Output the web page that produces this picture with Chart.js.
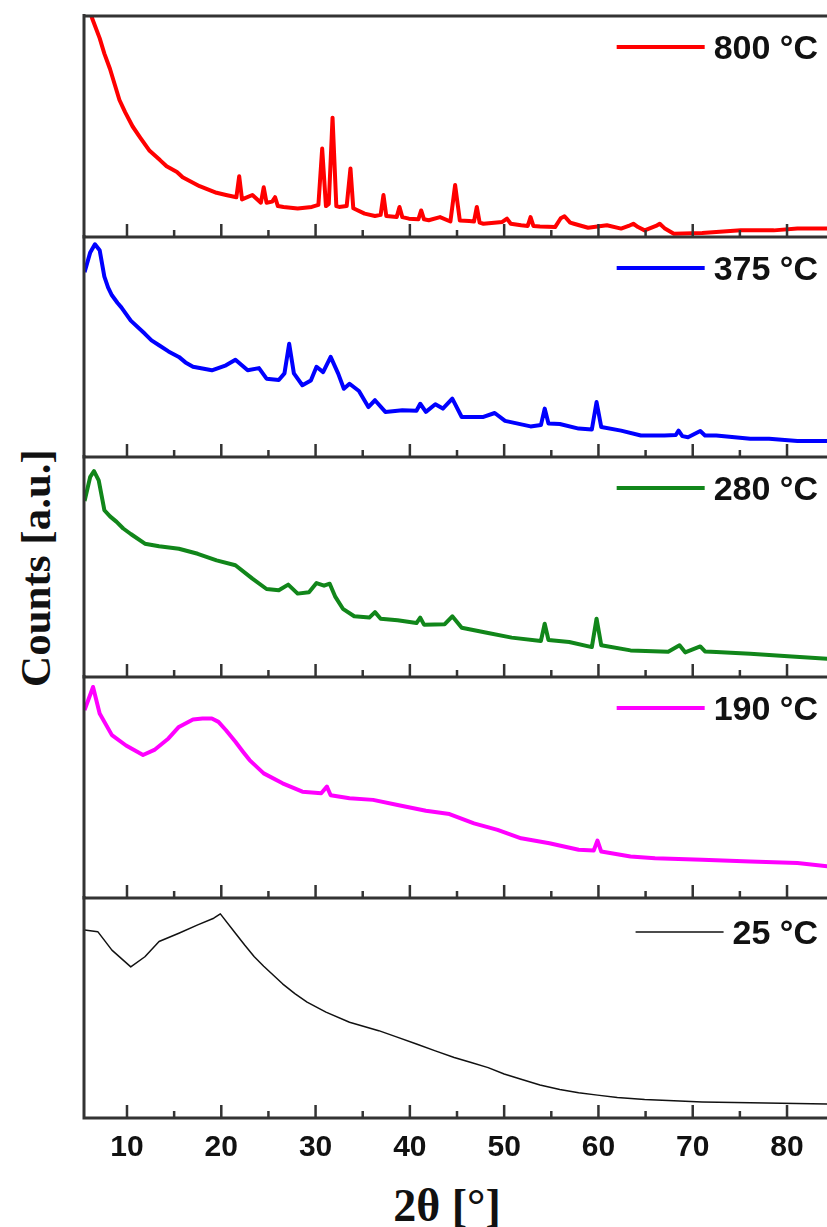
<!DOCTYPE html>
<html>
<head>
<meta charset="utf-8">
<script src="https://cdn.jsdelivr.net/npm/chart.js@4.4.0/dist/chart.umd.min.js"></script>
<style>
body { margin: 0; background: #fff; }
#wrap { position: relative; width: 827px; height: 1227px; overflow: hidden; background: #fff; }
#wrap canvas { position: absolute; left: 0; }
.ytitle { position: absolute; left: 35px; top: 568px; transform: translate(-50%, -50%) rotate(-90deg);
  font: bold 43px "Liberation Serif", "Times New Roman", serif; white-space: nowrap; color: #111; }
.xtitle { position: absolute; left: 447px; top: 1205px; transform: translate(-50%, -50%);
  font: bold 46px "Liberation Serif", "Times New Roman", serif; white-space: nowrap; color: #111; }
</style>
</head>
<body>
<div id="wrap">
  <div class="ytitle">Counts [a.u.]</div>
  <div class="xtitle">2θ [°]</div>
</div>
<script>
// x axis
var xMin = 5.44, xMax = 84.24;
var majorTicks = [10, 20, 30, 40, 50, 60, 70, 80];
var minorTicks = [15, 25, 35, 45, 55, 65, 75];

// 800 C
var tt800 = [5.5, 6.3, 7.1, 7.6, 8.2, 8.7, 9.2, 9.8, 10.6, 11.4, 12.4, 13.5, 14.2, 15.3, 15.9, 17.7, 19.5, 20.5, 21.6, 21.9, 22.2, 23.3, 24.2, 24.5, 24.8, 25.4, 25.7, 26.0, 26.6, 28.1, 29.6, 30.3, 30.7, 31.1, 31.4, 31.8, 32.2, 32.5, 33.3, 33.7, 34.0, 35.2, 36.3, 36.9, 37.2, 37.5, 38.6, 38.9, 39.2, 39.9, 40.9, 41.2, 41.5, 42.0, 43.2, 44.3, 44.8, 45.3, 46.3, 46.8, 47.1, 47.4, 47.8, 49.8, 50.3, 50.7, 51.8, 52.5, 52.8, 53.1, 53.8, 55.4, 56.0, 56.4, 57.0, 57.4, 58.9, 60.9, 62.4, 63.2, 63.7, 64.2, 64.9, 66.1, 66.5, 67.0, 68.0, 71.0, 75.1, 78.6, 81.1, 84.3];
var c800 = [112, 99, 90, 83, 76, 69, 62, 56.5, 50, 45, 39, 34.8, 32, 29.4, 27, 23, 20, 19, 18, 27.5, 17, 19, 15.5, 22.5, 15.5, 16, 18, 14, 13.6, 12.9, 13.6, 14.5, 40, 14, 15, 54, 14, 13.6, 14, 31, 13, 10.6, 9.5, 10, 19, 9.5, 9, 13.6, 9, 8.3, 8, 12, 8, 7.6, 9, 7, 23.5, 7.5, 7.2, 7, 13.6, 6.5, 6, 6.8, 8.3, 6, 5.3, 5, 9, 5, 4.8, 4.5, 8.5, 9.4, 6.5, 6, 4.2, 5.3, 3.8, 5, 6, 4.5, 3, 5, 6, 4, 1.5, 1.8, 3, 3, 3.8, 3.8];

// 375 C
var tt375 = [5.5, 6.1, 6.6, 7.1, 7.6, 8.0, 8.4, 9.0, 9.4, 10.4, 11.9, 12.6, 13.4, 14.4, 15.5, 16.2, 17.0, 19.0, 20.5, 21.5, 22.8, 24.0, 24.8, 26.1, 26.7, 27.2, 27.7, 28.6, 29.5, 30.1, 30.8, 31.6, 32.4, 33.0, 33.6, 34.6, 35.6, 36.3, 37.4, 39.2, 40.7, 41.1, 41.7, 42.7, 43.5, 44.5, 45.5, 47.8, 49.0, 50.1, 52.8, 53.9, 54.3, 54.7, 55.9, 57.9, 59.3, 59.8, 60.3, 62.4, 64.5, 67.0, 68.2, 68.5, 68.9, 69.5, 70.8, 71.3, 72.5, 76.1, 78.1, 81.1, 84.3];
var c375 = [84, 93, 96.7, 94, 82, 77, 73.5, 70, 68, 62, 56, 53, 50.8, 48, 45.5, 43, 41, 39.4, 41.7, 44.2, 39.4, 40.4, 35.6, 35, 38, 51.5, 38, 32.6, 34.8, 41, 38.6, 45.5, 37.9, 31, 33.3, 30, 22.7, 25.8, 20.5, 21.2, 21, 24.2, 20.5, 24, 22, 26.5, 18.2, 18.2, 20, 16.4, 13.9, 14.5, 22, 15.2, 15, 12.9, 12.5, 25, 13.6, 12, 9.8, 9.8, 10, 12, 9.5, 9, 11.8, 9.8, 9.8, 8.3, 8.3, 7.3, 7.3];

// 280 C
var tt280 = [5.5, 6.1, 6.5, 7.0, 7.6, 8.2, 8.9, 9.6, 10.4, 11.9, 13.4, 15.5, 17.5, 19.5, 21.5, 23.3, 24.8, 26.1, 27.1, 28.1, 29.3, 30.1, 30.9, 31.5, 32.1, 32.9, 34.1, 35.7, 36.3, 36.9, 38.7, 40.7, 41.1, 41.5, 43.7, 44.5, 45.5, 48.3, 50.8, 53.9, 54.3, 54.7, 56.9, 59.3, 59.8, 60.3, 63.4, 67.4, 68.6, 69.2, 70.8, 71.3, 72.5, 76.1, 80.1, 84.3];
var c280 = [80, 91, 93.6, 89.4, 75.8, 73, 70.5, 67.5, 65, 60.6, 59.4, 58.3, 56, 53, 50.8, 44.7, 40, 39.4, 42, 37.9, 38.5, 42.7, 41.5, 42.4, 36.4, 31, 27.6, 27, 29.5, 26.5, 25.8, 24.5, 27, 23.8, 24, 27.6, 22.4, 20, 17.9, 16.4, 24.2, 16.8, 15.9, 13.6, 26.5, 14.4, 12.1, 11.5, 14.4, 11.2, 13.9, 11.6, 11.4, 10.6, 9.4, 8.3];

// 190 C
var tt190 = [5.5, 6.4, 7.1, 8.4, 9.9, 11.7, 12.9, 14.4, 15.5, 16.2, 17.0, 18.0, 19.0, 19.7, 20.5, 21.5, 22.3, 23.0, 24.5, 26.5, 28.6, 30.6, 31.2, 31.6, 33.6, 36.1, 38.7, 41.7, 44.2, 46.8, 49.3, 51.8, 54.8, 57.9, 59.5, 59.9, 60.3, 63.4, 66.0, 71.0, 76.1, 81.1, 84.3];
var c190 = [85, 95.5, 83.5, 73.7, 69, 64.7, 67, 72.2, 77.4, 79, 80.8, 81.2, 81.2, 79.7, 75.9, 70.7, 66.2, 62.4, 56.4, 51.9, 48.1, 47.4, 50.4, 46.5, 45.1, 44.4, 42.1, 39.5, 38, 33.8, 30.8, 27, 24.8, 21.8, 21.5, 26, 21, 18.8, 18, 17.3, 16.5, 15.8, 14.3];

// 25 C
var tt25 = [5.5, 6.9, 8.4, 10.4, 11.9, 13.4, 15.5, 17.5, 19.2, 19.9, 21.5, 22.5, 23.5, 24.5, 26.5, 27.8, 29.1, 31.1, 33.6, 36.7, 38.5, 40.7, 42.7, 44.7, 46.5, 48.3, 50.0, 51.8, 53.8, 55.9, 57.9, 59.9, 62.0, 64.9, 68.0, 71.0, 76.1, 84.3];
var c25 = [85.5, 84.7, 76.3, 68.7, 73.3, 80.2, 84, 87.8, 90.8, 92.8, 84, 78.5, 73.3, 69, 61, 56.5, 52.7, 48.1, 43.5, 39.7, 37, 33.6, 30.5, 27.5, 25.2, 22.9, 20, 17.6, 15, 13, 11.5, 10.4, 9.3, 8.4, 7.8, 7.3, 6.9, 6.4];

var labels = ['800 °C', '375 °C', '280 °C', '190 °C', '25 °C'];
var xs = [tt800, tt375, tt280, tt190, tt25];
var ys = [c800, c375, c280, c190, c25];
var colors = ['#ff0000', '#0000ff', '#11861a', '#ff00ff', '#111111'];
var widths = [4, 4, 4, 4, 1.5];

var panelTops = [16, 237, 457, 677, 898];
var panelBottom = 1118;

var axisColor = '#333333';
var labelPad = 12;

// frame, inner ticks and the little legend in every panel
var panelFrame = {
	id: 'panelFrame',
	afterDatasetsDraw: function(chart, args, opts) {
		var ctx = chart.ctx, a = chart.chartArea, x = chart.scales.x;
		ctx.save();
		ctx.strokeStyle = axisColor;
		ctx.lineWidth = 3;
		ctx.beginPath();
		ctx.moveTo(a.left, a.top - 2);
		ctx.lineTo(a.left, a.bottom + 1.5);
		if (opts.first) {
			ctx.moveTo(a.left - 1.5, a.top);
			ctx.lineTo(a.right, a.top);
		}
		ctx.moveTo(a.left - 1.5, a.bottom);
		ctx.lineTo(a.right, a.bottom);
		ctx.stroke();

		ctx.lineWidth = 2.5;
		ctx.beginPath();
		majorTicks.forEach(function(v) {
			var px = x.getPixelForValue(v);
			ctx.moveTo(px, a.bottom);
			ctx.lineTo(px, a.bottom - 13);
		});
		minorTicks.forEach(function(v) {
			var px = x.getPixelForValue(v);
			ctx.moveTo(px, a.bottom);
			ctx.lineTo(px, a.bottom - 7);
		});
		ctx.stroke();

		// legend
		var ds = chart.data.datasets[0];
		ctx.font = 'bold 34px "Liberation Sans", Arial, sans-serif';
		var w = ctx.measureText(ds.label).width;
		var tx = 818 - w;
		var ly = a.top + opts.legendY;
		ctx.strokeStyle = ds.borderColor;
		ctx.lineWidth = ds.borderWidth;
		ctx.beginPath();
		ctx.moveTo(tx - 97, ly);
		ctx.lineTo(tx - 9, ly);
		ctx.stroke();
		ctx.fillStyle = '#111';
		ctx.textBaseline = 'alphabetic';
		ctx.fillText(ds.label, tx, ly + 12);
		ctx.restore();
	}
};

function chartFnc(i) {
	var last = (i == panelTops.length - 1);
	var top = panelTops[i];
	var bottom = last ? panelBottom : panelTops[i + 1];
	var canvas = document.createElement('canvas');
	// tick label row of the bottom panel: 36px line + padding on both sides
	var h = (bottom - top) + 4 + (last ? 36 + 2 * labelPad - 2 : 0);
	canvas.width = 827;
	canvas.height = h;
	canvas.style.top = (top - 2) + 'px';
	document.getElementById('wrap').appendChild(canvas);

	var pts = [];
	for (var k = 0; k < xs[i].length; k++) {
		pts.push({ x: xs[i][k], y: ys[i][k] });
	}

	return new Chart(canvas.getContext('2d'), {
		type: 'line',
		data: {
			datasets: [{
				label: labels[i],
				data: pts,
				borderColor: colors[i],
				borderWidth: widths[i],
				borderJoinStyle: 'round',
				pointRadius: 0,
				tension: 0,
				clip: 0
			}]
		},
		options: {
			responsive: false,
			animation: false,
			layout: { padding: { left: 84, right: 0, top: 2, bottom: last ? 0 : 2 } },
			plugins: {
				legend: { display: false },
				tooltip: { enabled: false },
				panelFrame: { first: i == 0, legendY: last ? 34 : 31 }
			},
			scales: {
				x: {
					type: 'linear',
					min: xMin,
					max: xMax,
					display: last,
					grid: { display: false, drawTicks: false },
					border: { display: false },
					afterBuildTicks: function(scale) {
						scale.ticks = majorTicks.map(function(v) { return { value: v }; });
					},
					ticks: {
						padding: labelPad,
						color: '#111',
						maxRotation: 0,
						font: { family: '"Liberation Sans", Arial, sans-serif', size: 30, weight: 'bold' }
					}
				},
				y: { min: 0, max: 100, display: false }
			}
		},
		plugins: [panelFrame]
	});
}

for (var i = 0; i < panelTops.length; i++) {
	chartFnc(i);
}
</script>
</body>
</html>
